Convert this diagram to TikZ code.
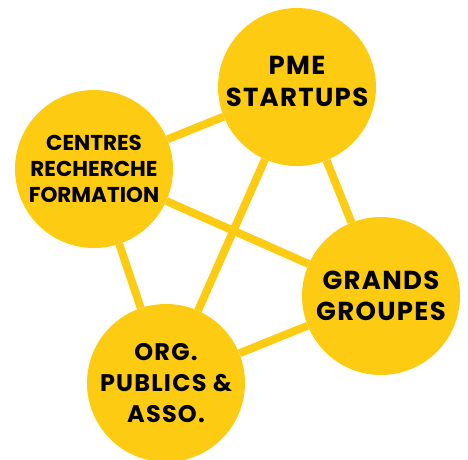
\documentclass[tikz,border=0pt]{standalone}
\usepackage{fontspec}
\setmainfont{Poppins}[LetterSpace=5]
\newfontfamily\tightpoppins{Poppins}
\usetikzlibrary{backgrounds,positioning}
\definecolor{sunyellow}{RGB}{253,204,18}

\begin{document}
\begin{tikzpicture}
[x=1pt, y=-1pt,
% STYLES
% The actor style is used to draw the yellow circles
actor/.style={circle, fill=sunyellow, inner sep=0pt, minimum size=158pt, align=center, font=\bfseries\fontsize{26}{31}\selectfont},
% The small style is used for the circle with the longer text
small/.style={font=\tightpoppins\bfseries\fontsize{21.5}{26}\selectfont},
% The link style is used to draw the connections
link/.style={draw=sunyellow, line width=8pt}]

\useasboundingbox (0,0) rectangle (468,459);

% Draw actors
\node [actor, font=\bfseries\fontsize{26}{32}\selectfont, text depth=12pt] (pme) at (297,87) {PME\\STARTUPS};
\node [actor, small] (centres) at (94,169) {CENTRES\\RECHERCHE\\FORMATION};
\node [actor] (grands) at (381,296) {GRANDS\\GROUPES};
\node [actor, font=\bfseries\fontsize{24}{31}\selectfont] (org) at (166,383) {ORG.\\PUBLICS \&\\ASSO.};

% Draw the links between actors
\begin{scope}[on background layer]
\path[link]
(centres) edge (pme)
(centres) edge (grands)
(centres) edge (org)
(pme) edge (grands)
(pme) edge (org)
(org) edge (grands);
\end{scope}

\end{tikzpicture}
\end{document}
